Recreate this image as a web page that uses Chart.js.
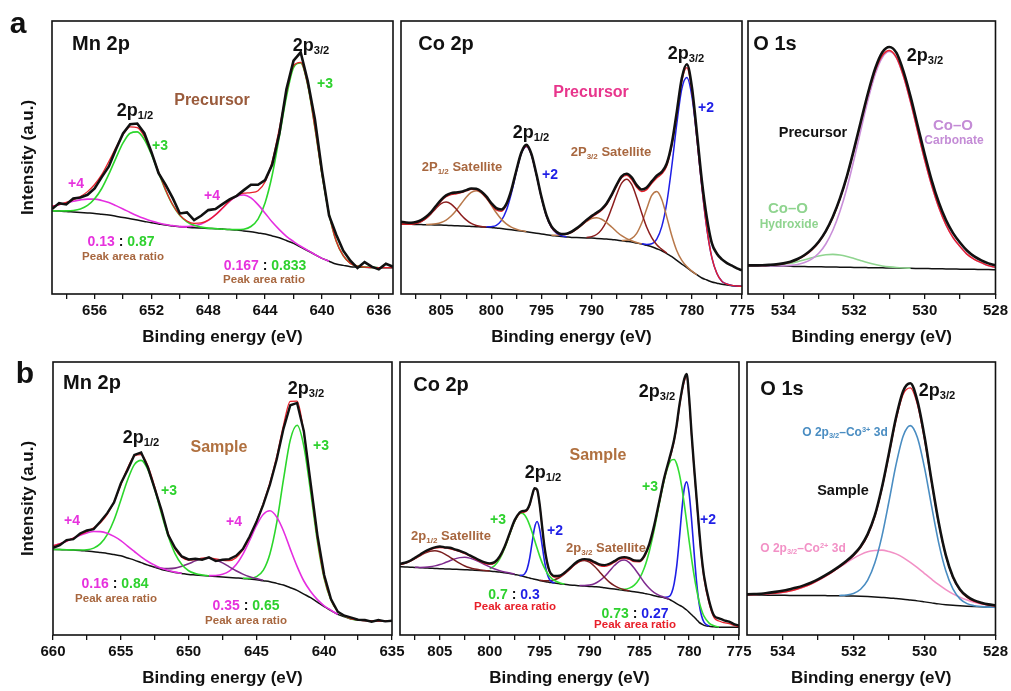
<!DOCTYPE html>
<html>
<head>
<meta charset="utf-8">
<script src="https://cdn.jsdelivr.net/npm/chart.js@4.4.1/dist/chart.umd.min.js"></script>
<style>
  body { margin: 0; background: #fff; width: 1011px; height: 691px; position: relative; overflow: hidden;
         font-family: "Liberation Sans", Arial, sans-serif; font-weight: bold; color: #111; }
  canvas { position: absolute; }
  .t { position: absolute; transform: translate(-50%, -50%); white-space: nowrap; line-height: 1; }
  .t sub { font-size: 0.62em; vertical-align: -0.3em; }
  .t sup { font-size: 0.62em; vertical-align: 0.5em; }
</style>
</head>
<body>
<canvas id="a1" width="413" height="339" style="left:0px;top:11px"></canvas>
<canvas id="a2" width="381" height="339" style="left:381px;top:11px"></canvas>
<canvas id="a3" width="283" height="339" style="left:728px;top:11px"></canvas>
<canvas id="b1" width="412" height="339" style="left:0px;top:352px"></canvas>
<canvas id="b2" width="379" height="339" style="left:380px;top:352px"></canvas>
<canvas id="b3" width="284" height="339" style="left:727px;top:352px"></canvas>

<!-- panel a -->
<div class="t" style="left:18px;top:23px;font-size:30px">a</div>
<div class="t" style="left:101px;top:43px;font-size:20px">Mn 2p</div>
<div class="t" style="left:311px;top:46px;font-size:18px">2p<sub>3/2</sub></div>
<div class="t" style="left:325px;top:83px;font-size:14px;color:#2ed12e">+3</div>
<div class="t" style="left:212px;top:100px;font-size:16px;color:#9a5b3c">Precursor</div>
<div class="t" style="left:135px;top:111px;font-size:18px">2p<sub>1/2</sub></div>
<div class="t" style="left:160px;top:145px;font-size:14px;color:#2ed12e">+3</div>
<div class="t" style="left:76px;top:183px;font-size:14px;color:#e632dd">+4</div>
<div class="t" style="left:212px;top:195px;font-size:14px;color:#e632dd">+4</div>
<div class="t" style="left:121px;top:241px;font-size:14px"><span style="color:#e632dd">0.13</span> : <span style="color:#2ed12e">0.87</span></div>
<div class="t" style="left:123px;top:257px;font-size:11.5px;color:#a8673f">Peak area ratio</div>
<div class="t" style="left:265px;top:265px;font-size:14px"><span style="color:#e632dd">0.167</span> : <span style="color:#2ed12e">0.833</span></div>
<div class="t" style="left:264px;top:280px;font-size:11.5px;color:#a8673f">Peak area ratio</div>

<div class="t" style="left:446px;top:43px;font-size:20px">Co 2p</div>
<div class="t" style="left:686px;top:54px;font-size:18px">2p<sub>3/2</sub></div>
<div class="t" style="left:591px;top:92px;font-size:16px;color:#e8358c">Precursor</div>
<div class="t" style="left:706px;top:107px;font-size:14px;color:#1f1fe6">+2</div>
<div class="t" style="left:531px;top:133px;font-size:18px">2p<sub>1/2</sub></div>
<div class="t" style="left:611px;top:153px;font-size:13px;color:#a8673f">2P<sub>3/2</sub> Satellite</div>
<div class="t" style="left:550px;top:174px;font-size:14px;color:#1f1fe6">+2</div>
<div class="t" style="left:462px;top:168px;font-size:13px;color:#a8673f">2P<sub>1/2</sub> Satellite</div>

<div class="t" style="left:775px;top:43px;font-size:20px">O 1s</div>
<div class="t" style="left:925px;top:56px;font-size:18px">2p<sub>3/2</sub></div>
<div class="t" style="left:813px;top:132px;font-size:14.5px">Precursor</div>
<div class="t" style="left:953px;top:124px;font-size:15px;color:#c48cd6">Co–O</div>
<div class="t" style="left:954px;top:140px;font-size:12px;color:#c48cd6">Carbonate</div>
<div class="t" style="left:788px;top:207px;font-size:15px;color:#8fd48f">Co–O</div>
<div class="t" style="left:789px;top:224px;font-size:12px;color:#8fd48f">Hydroxide</div>

<!-- panel b -->
<div class="t" style="left:25px;top:373px;font-size:30px">b</div>
<div class="t" style="left:92px;top:382px;font-size:20px">Mn 2p</div>
<div class="t" style="left:306px;top:389px;font-size:18px">2p<sub>3/2</sub></div>
<div class="t" style="left:219px;top:447px;font-size:16px;color:#b0703f">Sample</div>
<div class="t" style="left:321px;top:445px;font-size:14px;color:#2ed12e">+3</div>
<div class="t" style="left:141px;top:438px;font-size:18px">2p<sub>1/2</sub></div>
<div class="t" style="left:169px;top:490px;font-size:14px;color:#2ed12e">+3</div>
<div class="t" style="left:72px;top:520px;font-size:14px;color:#e632dd">+4</div>
<div class="t" style="left:234px;top:521px;font-size:14px;color:#e632dd">+4</div>
<div class="t" style="left:115px;top:583px;font-size:14px"><span style="color:#e632dd">0.16</span> : <span style="color:#2ed12e">0.84</span></div>
<div class="t" style="left:116px;top:599px;font-size:11.5px;color:#a8673f">Peak area ratio</div>
<div class="t" style="left:246px;top:605px;font-size:14px"><span style="color:#e632dd">0.35</span> : <span style="color:#2ed12e">0.65</span></div>
<div class="t" style="left:246px;top:621px;font-size:11.5px;color:#a8673f">Peak area ratio</div>

<div class="t" style="left:441px;top:384px;font-size:20px">Co 2p</div>
<div class="t" style="left:657px;top:392px;font-size:18px">2p<sub>3/2</sub></div>
<div class="t" style="left:598px;top:455px;font-size:16px;color:#b0703f">Sample</div>
<div class="t" style="left:543px;top:473px;font-size:18px">2p<sub>1/2</sub></div>
<div class="t" style="left:650px;top:486px;font-size:14px;color:#2ed12e">+3</div>
<div class="t" style="left:708px;top:519px;font-size:14px;color:#1f1fe6">+2</div>
<div class="t" style="left:498px;top:519px;font-size:14px;color:#2ed12e">+3</div>
<div class="t" style="left:555px;top:530px;font-size:14px;color:#1f1fe6">+2</div>
<div class="t" style="left:451px;top:537px;font-size:13px;color:#a8673f">2p<sub>1/2</sub> Satellite</div>
<div class="t" style="left:606px;top:549px;font-size:13px;color:#a8673f">2p<sub>3/2</sub> Satellite</div>
<div class="t" style="left:514px;top:594px;font-size:14px"><span style="color:#2ed12e">0.7</span> : <span style="color:#1f1fe6">0.3</span></div>
<div class="t" style="left:515px;top:607px;font-size:11.5px;color:#e8202a">Peak area ratio</div>
<div class="t" style="left:635px;top:613px;font-size:14px"><span style="color:#2ed12e">0.73</span> : <span style="color:#1f1fe6">0.27</span></div>
<div class="t" style="left:635px;top:625px;font-size:11.5px;color:#e8202a">Peak area ratio</div>

<div class="t" style="left:782px;top:388px;font-size:20px">O 1s</div>
<div class="t" style="left:937px;top:391px;font-size:18px">2p<sub>3/2</sub></div>
<div class="t" style="left:845px;top:433px;font-size:12px;color:#4a8dc2">O 2p<sub>3/2</sub>–Co<sup>3+</sup> 3d</div>
<div class="t" style="left:843px;top:490px;font-size:14.5px">Sample</div>
<div class="t" style="left:803px;top:549px;font-size:12px;color:#f291c6">O 2p<sub>3/2</sub>–Co<sup>2+</sup> 3d</div>

<script>
// ---------- a: precursor, Mn 2p ----------
const a1E = [659,658.5,658,657.5,657,656.5,656,655.5,655,654.5,
             654,653.5,653,652.5,652,651.5,651,650.5,650,649.5,
             649,648.5,648,647.5,647,646.5,646,645.5,645,644.5,
             644,643.5,643,642.5,642,641.5,641,640.5,640,639.5,
             639,638.5,638,637.5,637,636.5,636,635.5,635];
const a1Data = [255,273,269,287,290,298,317,351,383,435,
                482,510,512,483,426,363,328,288,242,245,
                222,235,252,255,270,284,295,312,328,328,
                342,389,482,615,701,726,640,526,370,236,
                179,130,100,78,96,82,74,91,82];
const a1Fit = [263,268.5,275,283,293,307.5,329,358.5,398,440,
               479,502,500,473,424,367.5,312.6,268,237,219.4,
               212,213.4,222,237.5,258,279,295,302.7,304.5,310,
               337,399,497,605,686,696,628,501,360,241,
               159,115,92,84,81,79.5,79,79,79];
const a1Bkg = [250,249,248,246.5,245,243.5,242,239.5,237,233.5,
               230,226,222,218,214,210.5,207,204.5,202,200.5,
               199,198,197,196,195,193.5,192,189.5,187,183.5,
               180,174.5,169,160.5,152,141,130,118.5,107,98.5,
               90,86,82,81,80,79.5,79,79,79];
const a1Mn3Half = [250,249.5,249.6,250.8,255.3,265.9,285.9,316.9,360,408.3,
                   453.7,483,487,464,419,364.5,311,267,236,217.1,
                   206.2,200.9,198,196.3,195];
const a1Mn4Half = [263.2,268,273.5,278.5,282.7,285.1,285,281.1,274.7,265.5,
                   255.5,245,235.2,226.7,219.3,213.5,208.6,205.3,202.4,200.5];
const a1Mn4Main = [202.9,202.8,204.7,210.5,221.2,237.5,257.9,278.5,293.7,297.5,288.7,268.5,
                   242.9,216,193.2,173,157.7,143.3,130.9,118.8,107,98.5];   // from 650
const a1Mn3Main = [195,193.8,193.4,194.7,202.8,225.1,274.4,357.5,472.6,592.5,680,694,627,500.5,
                   359.5,241.1,159,114.8,92.3,84.1,81,79.5,79];              // from 647

// ---------- a: precursor, Co 2p ----------
const a2E = [809,808.5,808,807.5,807,806.5,806,805.5,805,804.5,
             804,803.5,803,802.5,802,801.5,801,800.5,800,799.5,
             799,798.5,798,797.5,797,796.5,796,795.5,795,794.5,
             794,793.5,793,792.5,792,791.5,791,790.5,790,789.5,
             789,788.5,788,787.5,787,786.5,786,785.5,785,784.5,
             784,783.5,783,782.5,782,781.5,781,780.5,780,779.5,
             779,778.5,778,777.5,777,776.5,776,775.5,775];
const a2Data = [217,215,214,216,222,232,246,265,283,296,
                303,305,307,312,317,316,308,293,273,258,
                254,270,312,371,425,448,421,360,292,237,
                203,187,180,181,187,197,209,222,234,244,
                255,272,298,328,353,361,350,327,314,320,
                338,355,367,392,452,547,648,690,622,485,
                340,228,152,121,104,93,85,77,71];
const a2Fit = [210,210,210.4,212.5,217.6,227.3,242.5,261.3,279.4,292.1,
               298.6,301.2,304.3,309.7,314.3,313.9,305.1,289,269.1,252.3,
               248.7,266.4,309.9,369.6,423.4,443.5,418,357.8,289.5,234.1,
               200.4,184.6,179.3,180.2,185.1,194.6,206.6,219.3,230.9,240.7,
               251.9,268.8,294.7,324.2,348.9,356.3,343.7,320.7,307.9,313.5,
               332.2,348.8,360.8,385.4,446.8,540.5,640,680,610,468.5,
               319.8,195,108.5,61.6,37.9,29.9,25.8,24.2,23];
const a2Bkg = [210,209.6,209.3,208.9,208.5,208,207.8,207.4,207,206.3,
               205.7,205,204.3,203.7,203,202.3,201.5,200.8,200,198,
               196.5,194.8,193,191,189,187,185,182.8,180.5,178.3,
               176,174.5,173,171.5,170,169.5,169,168.5,168,167,
               166,165,164,162,160,158,156,153,150,146,
               142,136,130,121,112,101,90,79,68,58,
               48,42,36,32.5,29,27,25,24,23];
const a2SatHalfA = [210.1,210,210.4,212.5,217.4,226.8,241.1,257.7,271.5,276.3,
                    270.2,255.3,237.6,222.5,211.9,205.9,202.6,201.2];          // from 809
const a2SatHalfB = [208.5,209.2,211,214.9,222.1,234.1,250.9,271,290.9,305.4,310.3,
                    303.9,288,266.7,243.9,224.9,210.6,200.9,194.6,190.4,187.5]; // from 806.5
const a2Co2Half = [201.4,202.4,206.4,220.3,250.6,302,366,422,443,418,357.8,289.5,234.1,
                   199.8,182.9,175.4,172.1];                                   // from 800.5
const a2SatMainC = [176.6,176.2,176.9,179.6,185.1,194.6,206.2,217.9,226.6,229,
                    224.6,214.4,201.2,187.1,175.1,166.1,159.9,154.7,150.6];    // from 794
const a2SatMainA = [169.9,172.3,178.7,193.3,219.4,257.5,299,333,345,329,290,243.5,200.4,
                    169.3,147.7,134.3,122.4];                                  // from 790.5
const a2SatMainB = [160.8,161.2,166.8,182,213,256,296,308,284,231,175,130,100.8,82.2,68.8,58]; // from 787
const a2Co2Main = [150.8,148.9,150.9,165.1,202.5,274,383.8,511.5,616,650,594,468.5,
                   319.8,195,108.5,61.6,37.9,29.9,25.8,24.2,23];              // from 785

// ---------- a: precursor, O 1s ----------
const oE = [535,534.8,534.6,534.4,534.2,534,533.8,533.6,533.4,533.2,
            533,532.8,532.6,532.4,532.2,532,531.8,531.6,531.4,531.2,
            531,530.8,530.6,530.4,530.2,530,529.8,529.6,529.4,529.2,
            529,528.8,528.6,528.4,528.2,528];
const a3Data = [86,86,86.5,87.5,89,92,97,105,117,134,
                157,189,232,287,355,436,522,606,678,726,
                742,724,668,592,505,419,340,274,222,183,
                154,130,113,101,92,86];
const a3Fit = [85.2,85.1,85.2,85.9,87.4,90.4,95.4,103.2,114.9,131.6,
               154.8,186.9,229.4,284.2,351.8,431.8,517.1,599.8,670.4,716.3,
               731.5,710,653.3,575.5,487.8,401.5,324.1,258.8,207.4,169.1,
               142.3,119,104,94,85,80];
const a3Bkg = [85,84.7,84.3,84,83.6,83.3,83,82.6,82.3,81.9,
               81.6,81.3,80.9,80.6,80.2,79.9,79.5,79.2,78.9,78.5,
               78.2,77.8,77.5,77.1,76.8,76.5,76.1,75.8,75.4,75.1,
               74.7,74.4,74.1,73.7,73.4,73];
const a3Carbonate = [85,84.7,84.4,84.2,84.1,84.6,85.9,88.6,94.3,104.7,
                     122.2,150.3,191.4,247.6,319.2,404.9,496.5,585.2,660.9,710.5,
                     728.2,708.3,652.5,575.1,487.8,401.5,324.1,258.8,207.4,169.1,
                     142.3,119,104,94,85,80];
const a3Hydroxide = [85.2,85.1,85.1,85.7,86.9,89.1,92.5,97.2,102.9,108.8,
                     114.2,117.9,118.9,117.2,112.8,106.8,100.1,93.8,88.4,84.3,
                     81.5,79.5,78.3,77.5];

// ---------- b: sample, Mn 2p ----------
const b1E = [660,659.5,659,658.5,658,657.5,657,656.5,656,655.5,
             655,654.5,654,653.5,653,652.5,652,651.5,651,650.5,
             650,649.5,649,648.5,648,647.5,647,646.5,646,645.5,
             645,644.5,644,643.5,643,642.5,642,641.5,641,640.5,
             640,639.5,639,638.5,638,637.5,637,636.5,636,635.5,635];
const b1Data = [262,270,285,288,305,314,318,341,366,398,
                455,496,541,548,503,440,375,300,262,236,
                227,229,226,233,222,226,228,238,258,296,
                339,391,452,528,620,690,697,612,456,300,
                180,108,70,58,52,46,45,40,45,41,43];
const b1Fit = [267.9,273.8,281.9,290.9,301,310.6,321.8,337.3,362.3,400.1,
               450.7,501.2,537.5,541.8,507.6,445.5,370.8,305.1,258.2,233.3,
               224.8,226.8,230.6,231.8,228.8,224.4,223.4,232.2,255.5,293,
               341,394.4,457.9,536.5,630.5,701.9,702.2,606.2,448.6,288.7,
               172.1,105.4,71.2,57.2,48.4,45.5,43,42.5,42,42,42];
const b1Bkg = [257,256.5,256,255,254,252,250,247.5,245,241.5,
               238,231.5,225,217.5,210,203.5,197,192.5,188,185,
               182,180.5,179,177.5,176,174.5,173,171.5,170,168,
               166,163,160,155,150,142,134,123,112,98.5,
               85,73.5,62,55,48,45.5,43,42.5,42,42,42];
const b1Mn4Half = [267.9,273.8,281.8,290.5,299.7,306.6,310.8,310.5,305.8,296.1,
                   283.7,267,250.8,234.8,220.9,209.9,200.5,194.2,188.8,185.3];
const b1Mn3Half = [257,256.5,256.1,255.4,255.3,256,261,274.3,301.5,345.5,
                   405,465.7,511.7,524.5,496.7,437.7,364,296.5,244.5,211.8,
                   193,184.5,180.3,177.9];
const b1Mid = [204.9,200.3,199.4,200.9,206.5,213.8,222.7,229,230.5,226,216.7,204.8,193,182.9,174.9,
               169.3,164.4];                                                          // from 652.5
const b1Mn4Main = [178.4,178.8,182.2,191.6,210.7,242.2,283.9,328.5,362,373,354,312.5,257.9,
                   206.2,162.2,130.6,106.2,87.8,74.4,62];                               // from 648.5
const b1Mn3Main = [170.4,170.2,175.2,194,244.3,337.5,468,586,630,567,430,281,
                   169.3,104.5,71.2,57.2,48.4,45.5];                                    // from 646

// ---------- b: sample, Co 2p ----------
const b2E = [809,808.5,808,807.5,807,806.5,806,805.5,805,804.5,
             804,803.5,803,802.5,802,801.5,801,800.5,800,799.5,
             799,798.5,798,797.5,797,796.75,796.5,796.25,796,795.75,
             795.5,795.25,795,794.75,794.5,794.25,794,793.75,793.5,793,
             792.5,792,791.5,791,790.5,790,789.5,789,788.5,788,
             787.5,787,786.5,786,785.5,785,784.5,784,783.5,783,
             782.5,782,781.75,781.5,781.25,781,780.75,780.5,780.25,780,
             779.75,779.5,779.25,779,778.75,778.5,778,777.5,777,776.5,
             776,775.5,775];
const b2Data = [214,217,223,232,241,251,258,263,266,263,
                262,257,253,247,239,232,224,218,215,219,
                236,266,306,345,368,372,373,377,392,419,
                441,437,394,327,262,219,192,181,177,178,
                187,200,214,224,228,226,219,212,210,214,
                222,231,234,231,224,223,238,273,330,401,
                472,528,556,588,631,686,731,768,784,712,
                602,503,410,318,236,176,103,58,50,44,
                40,33,28];
const b2Fit = [211.4,215.5,221.7,229.8,239,248.2,255.7,260.6,262.3,261.6,
               258.9,255.1,250.4,244.4,237.4,229.4,221.3,214.6,212.3,216.6,
               233.1,263,302.9,341.5,364.9,368.3,369,373.5,389.3,416.3,
               439.3,435.3,392.7,325.5,260,216,189.7,178.1,174.1,175.3,
               184.3,196.9,210.7,221.3,225.5,222.8,215.5,208.7,206.1,210,
               218.5,227.5,230.6,227,220.3,220,234,269.5,325.7,397,
               467.3,524.4,550,583,626,679,725,760,778,705,
               596,496,404,311,228,168,95,52,42,37,
               34,29,25];
const b2Bkg = [205,204.3,203.5,202.8,202,201.3,200.5,199.8,199,198.5,
               198,197.5,197,196.3,195.5,194.8,194,193,192,190.5,
               189,187,185,182,179,177,175,173,171,169.3,
               167.5,165.8,164,162.5,161,159.5,158,157,156,154,
               152.3,150.5,149.3,148,147,146,145,144,142,140,
               138,136,134,132,130,128,125,122,118,115,
               112,107,103,99,94,90,86,81,75,68,
               61,54,46,38,33,29,26,24.5,23,23,
               23,23,23];
const b2SatHalfA = [211.4,215.4,221.5,229.3,237.9,245.9,251.3,252.8,249.8,243.1,
                    233.9,224,215,207.4,201.9,198.1,195.6,193.7,192.3];              // from 809
const b2SatHalfB = [203.3,203.1,203.6,204.9,207.6,211.5,217,223,228.6,232.4,233.3,230.9,
                    225.9,219,211.5,204.5,198.3,193.4,189.3,186.1,182.5];            // from 807.5
const b2Co3Half = [199.2,208.8,228.7,260.7,301.8,341,364.4,366,360.4,348,330,308.3,
                   284.3,260.3,237.7,217.5,200.7,187.1,176.3,168.8,163.6,156.6,153.1]; // from 800
const b2Co2Half = [179.5,179.3,183.6,198.5,230.3,277.3,322.5,340.8,319,270.5,220.3,
                   185,166.6,159.3,156.5];                                           // from 797
const b2SatMainA = [164.8,163.8,163.1,162.9,162.8,164,166,172.7,183.5,196.7,210.7,220.8,
                    224,218.8,206.4,190.2,173.2,158.7,148,140.8,136.1,132.8];        // from 795
const b2SatMainB = [148.5,148.5,150,154.1,162.5,174.9,191.3,208.5,221.4,225,217.4,200.5,
                    179.3,157.9,140.5,127.1,119,113.5,107.5];                        // from 791
const b2Co3Main = [137.3,137.5,140.8,149.8,168.8,201,251,316.6,393,
                   465,515,526,527,514,486,446,395.6,339.5,282,
                   228,178.5,136,100.5,74.5,55.8,35.8,27.6,23.9];                  // from 787
const b2Co2Main = [112.8,115.9,127,155.2,206,282.5,369,437.5,460,424.5,
                   344,246.5,158,94.2,57,37.9,26.8];                                // from 782.5

// ---------- b: sample, O 1s ----------
const b3Data = [122,123,124,126.5,129.5,133,137.5,142.5,149,157,
                167,179,192,206,222,241,266,303,359,443,
                547,654,733,756,703,596,463,338,240,175,
                137,116,104,97,92,89];
const b3Fit = [120.9,121.5,122.2,123.4,125.3,128.1,132,137.4,144.4,153.1,
               163.7,175.8,189.1,203.7,219.7,238.1,262.4,299.1,355.3,438.4,
               541,646.7,723,742.2,692.7,587.7,457.8,334.4,237.9,172.8,
               134.1,112.7,100.9,94.1,89.7,86.8];
const b3Bkg = [120,120,119.8,119.6,119.4,119.2,119,118.9,118.8,118.6,
               118.5,118.3,118.1,117.8,117.4,117,116.4,115.6,114.4,113,
               111.5,109.5,107.5,105,102.5,99.5,96.5,93.5,91,89,
               87.5,86.3,85.3,84.5,83.8,83];
const b3Co3 = [118.5,120,124.9,137.4,164.9,216.1,296.4,401.8,512.5,598,629,593,502.5,
               386.8,276.9,192.7,138.3,108.5,94.2,87.9,85.2,83.8,83];                // from 532.4
const b3Co2 = [120.9,121.5,122.2,123.4,125.3,128.1,132,137.4,144.4,153.1,
               163.7,175.8,189.1,203,217.1,230.2,241.4,249.8,253.6,255,
               250.7,243.7,232.5,218.2,202.2,184.7,167.5,151,136.2,123.5,
               113.1,104.8,98.3,93.4,89.7,86.8];

// ---------- axis ticks ----------
const mnATicks = [658,656,654,652,650,648,646,644,642,640,638,636];
const mnALabels = [656,652,648,644,640,636];
const mnBTicks = [660,657.5,655,652.5,650,647.5,645,642.5,640,637.5,635];
const mnBLabels = [660,655,650,645,640,635];
const coTicks = [807.5,805,802.5,800,797.5,795,792.5,790,787.5,785,782.5,780,777.5,775];
const coLabels = [805,800,795,790,785,780,775];
const oTicks = [534,533,532,531,530,529,528];
const oLabels = [534,532,530,528];

// ---------- drawing ----------
const BLACK = '#111111', RED = '#e8202a';

function pts(xs, ys, from) {
  const start = from === undefined ? 0 : xs.indexOf(from);
  const out = [];
  ys.forEach((y, i) => { if (y !== null && xs[start + i] !== undefined) out.push({ x: xs[start + i], y: y }); });
  return out;
}

function curve(xs, ys, color, width, order, from, jagged) {
  return {
    data: pts(xs, ys, from),
    borderColor: color,
    borderWidth: width,
    pointRadius: 0,
    fill: false,
    tension: 0,
    cubicInterpolationMode: jagged ? 'default' : 'monotone',
    order: order
  };
}

const frame = {
  id: 'frame',
  afterDraw(chart) {
    const { ctx, chartArea: a } = chart;
    ctx.save();
    ctx.strokeStyle = BLACK;
    ctx.lineWidth = 1.6;
    ctx.strokeRect(a.left, a.top, a.right - a.left, a.bottom - a.top);
    ctx.restore();
  }
};

function panel(id, opt) {
  new Chart(document.getElementById(id), {
    type: 'line',
    data: { datasets: opt.datasets },
    options: {
      responsive: false,
      animation: false,
      devicePixelRatio: 1,
      layout: { padding: { left: opt.padL, right: opt.padR, top: 10, bottom: 0 } },
      plugins: { legend: { display: false }, tooltip: { enabled: false } },
      scales: {
        x: {
          type: 'linear', reverse: true, min: opt.xmin, max: opt.xmax,
          afterBuildTicks: s => { s.ticks = opt.ticks.map(v => ({ value: v })); },
          afterFit: s => { s.height = 56; },
          ticks: {
            autoSkip: false, maxRotation: 0, padding: 3, color: BLACK,
            font: { family: 'Liberation Sans, Arial, sans-serif', size: 15, weight: 'bold' },
            callback: v => opt.labels.includes(v) ? String(v) : ''
          },
          grid: { display: true, drawOnChartArea: false, drawTicks: true, tickLength: 5, color: BLACK, lineWidth: 1.3 },
          border: { display: false },
          title: {
            display: true, text: 'Binding energy (eV)', color: BLACK,
            font: { family: 'Liberation Sans, Arial, sans-serif', size: 17, weight: 'bold' },
            padding: { top: 0, bottom: 2 }
          }
        },
        y: {
          min: 0, max: 820,
          display: !!opt.yW,
          afterFit: s => { s.width = opt.yW || 0; },
          ticks: { display: false },
          grid: { display: false },
          border: { display: false },
          title: {
            display: !!opt.yW, text: 'Intensity (a.u.)', color: BLACK,
            font: { family: 'Liberation Sans, Arial, sans-serif', size: 17, weight: 'bold' },
            padding: { top: 18, bottom: 0 }
          }
        }
      }
    },
    plugins: [frame]
  });
}

const GREEN = '#2bd62b', MAGENTA = '#e52ee0', BLUE = '#1f1fe6', BROWN = '#b8784a', MAROON = '#8c1d1d';

panel('a1', {
  xmin: 635, xmax: 659, ticks: mnATicks, labels: mnALabels, yW: 52, padL: 0, padR: 20,
  datasets: [
    curve(a1E, a1Data, BLACK, 2.6, 0, undefined, true),
    curve(a1E, a1Fit, RED, 1.3, 1),
    curve(a1E, a1Mn3Half, GREEN, 1.6, 2),
    curve(a1E, a1Mn4Half, MAGENTA, 1.6, 2),
    curve(a1E, a1Mn4Main, MAGENTA, 1.6, 2, 650),
    curve(a1E, a1Mn3Main, GREEN, 1.6, 2, 647),
    curve(a1E, a1Bkg, BLACK, 1.5, 3)
  ]
});

panel('a2', {
  xmin: 775, xmax: 809, ticks: coTicks, labels: coLabels, padL: 20, padR: 20,
  datasets: [
    curve(a2E, a2Data, BLACK, 2.6, 0),
    curve(a2E, a2Fit, RED, 1.4, 1),
    curve(a2E, a2SatHalfA, MAROON, 1.5, 2, 809),
    curve(a2E, a2SatHalfB, BROWN, 1.5, 2, 806.5),
    curve(a2E, a2Co2Half, BLUE, 1.5, 2, 800.5),
    curve(a2E, a2SatMainC, BROWN, 1.5, 2, 794),
    curve(a2E, a2SatMainA, MAROON, 1.5, 2, 790.5),
    curve(a2E, a2SatMainB, BROWN, 1.5, 2, 787),
    curve(a2E, a2Co2Main, BLUE, 1.5, 2, 785),
    curve(a2E, a2Bkg, BLACK, 1.5, 3)
  ]
});

panel('a3', {
  xmin: 528, xmax: 535, ticks: oTicks, labels: oLabels, padL: 20, padR: 15,
  datasets: [
    curve(oE, a3Data, BLACK, 2.6, 0),
    curve(oE, a3Fit, RED, 1.4, 1),
    curve(oE, a3Carbonate, '#c98fd9', 1.6, 2),
    curve(oE, a3Hydroxide, '#8fd48f', 1.6, 2),
    curve(oE, a3Bkg, BLACK, 1.5, 3)
  ]
});

panel('b1', {
  xmin: 635, xmax: 660, ticks: mnBTicks, labels: mnBLabels, yW: 53, padL: 0, padR: 20,
  datasets: [
    curve(b1E, b1Data, BLACK, 2.4, 0, undefined, true),
    curve(b1E, b1Fit, RED, 1.3, 1),
    curve(b1E, b1Mn4Half, MAGENTA, 1.6, 2),
    curve(b1E, b1Mn3Half, GREEN, 1.6, 2),
    curve(b1E, b1Mid, '#7b2d86', 1.6, 2, 652.5),
    curve(b1E, b1Mn4Main, MAGENTA, 1.6, 2, 648.5),
    curve(b1E, b1Mn3Main, GREEN, 1.6, 2, 646),
    curve(b1E, b1Bkg, BLACK, 1.5, 3)
  ]
});

panel('b2', {
  xmin: 775, xmax: 809, ticks: coTicks, labels: coLabels, padL: 20, padR: 20,
  datasets: [
    curve(b2E, b2Data, BLACK, 2.4, 0),
    curve(b2E, b2Fit, RED, 1.3, 1),
    curve(b2E, b2SatHalfA, '#7a1f1f', 1.5, 2, 809),
    curve(b2E, b2SatHalfB, '#7e2a8e', 1.5, 2, 807.5),
    curve(b2E, b2Co3Half, '#33dd33', 1.6, 2, 800),
    curve(b2E, b2Co2Half, BLUE, 1.6, 2, 797),
    curve(b2E, b2SatMainA, '#7a1f1f', 1.5, 2, 795),
    curve(b2E, b2SatMainB, '#7e2a8e', 1.5, 2, 791),
    curve(b2E, b2Co3Main, '#33dd33', 1.6, 2, 787),
    curve(b2E, b2Co2Main, BLUE, 1.6, 2, 782.5),
    curve(b2E, b2Bkg, BLACK, 1.5, 3)
  ]
});

panel('b3', {
  xmin: 528, xmax: 535, ticks: oTicks, labels: oLabels, padL: 20, padR: 15,
  datasets: [
    curve(oE, b3Data, BLACK, 2.6, 0),
    curve(oE, b3Fit, RED, 1.4, 1),
    curve(oE, b3Co3, '#4a8dc2', 1.6, 2, 532.4),
    curve(oE, b3Co2, '#f291c6', 1.6, 2),
    curve(oE, b3Bkg, BLACK, 1.5, 3)
  ]
});
</script>
</body>
</html>
